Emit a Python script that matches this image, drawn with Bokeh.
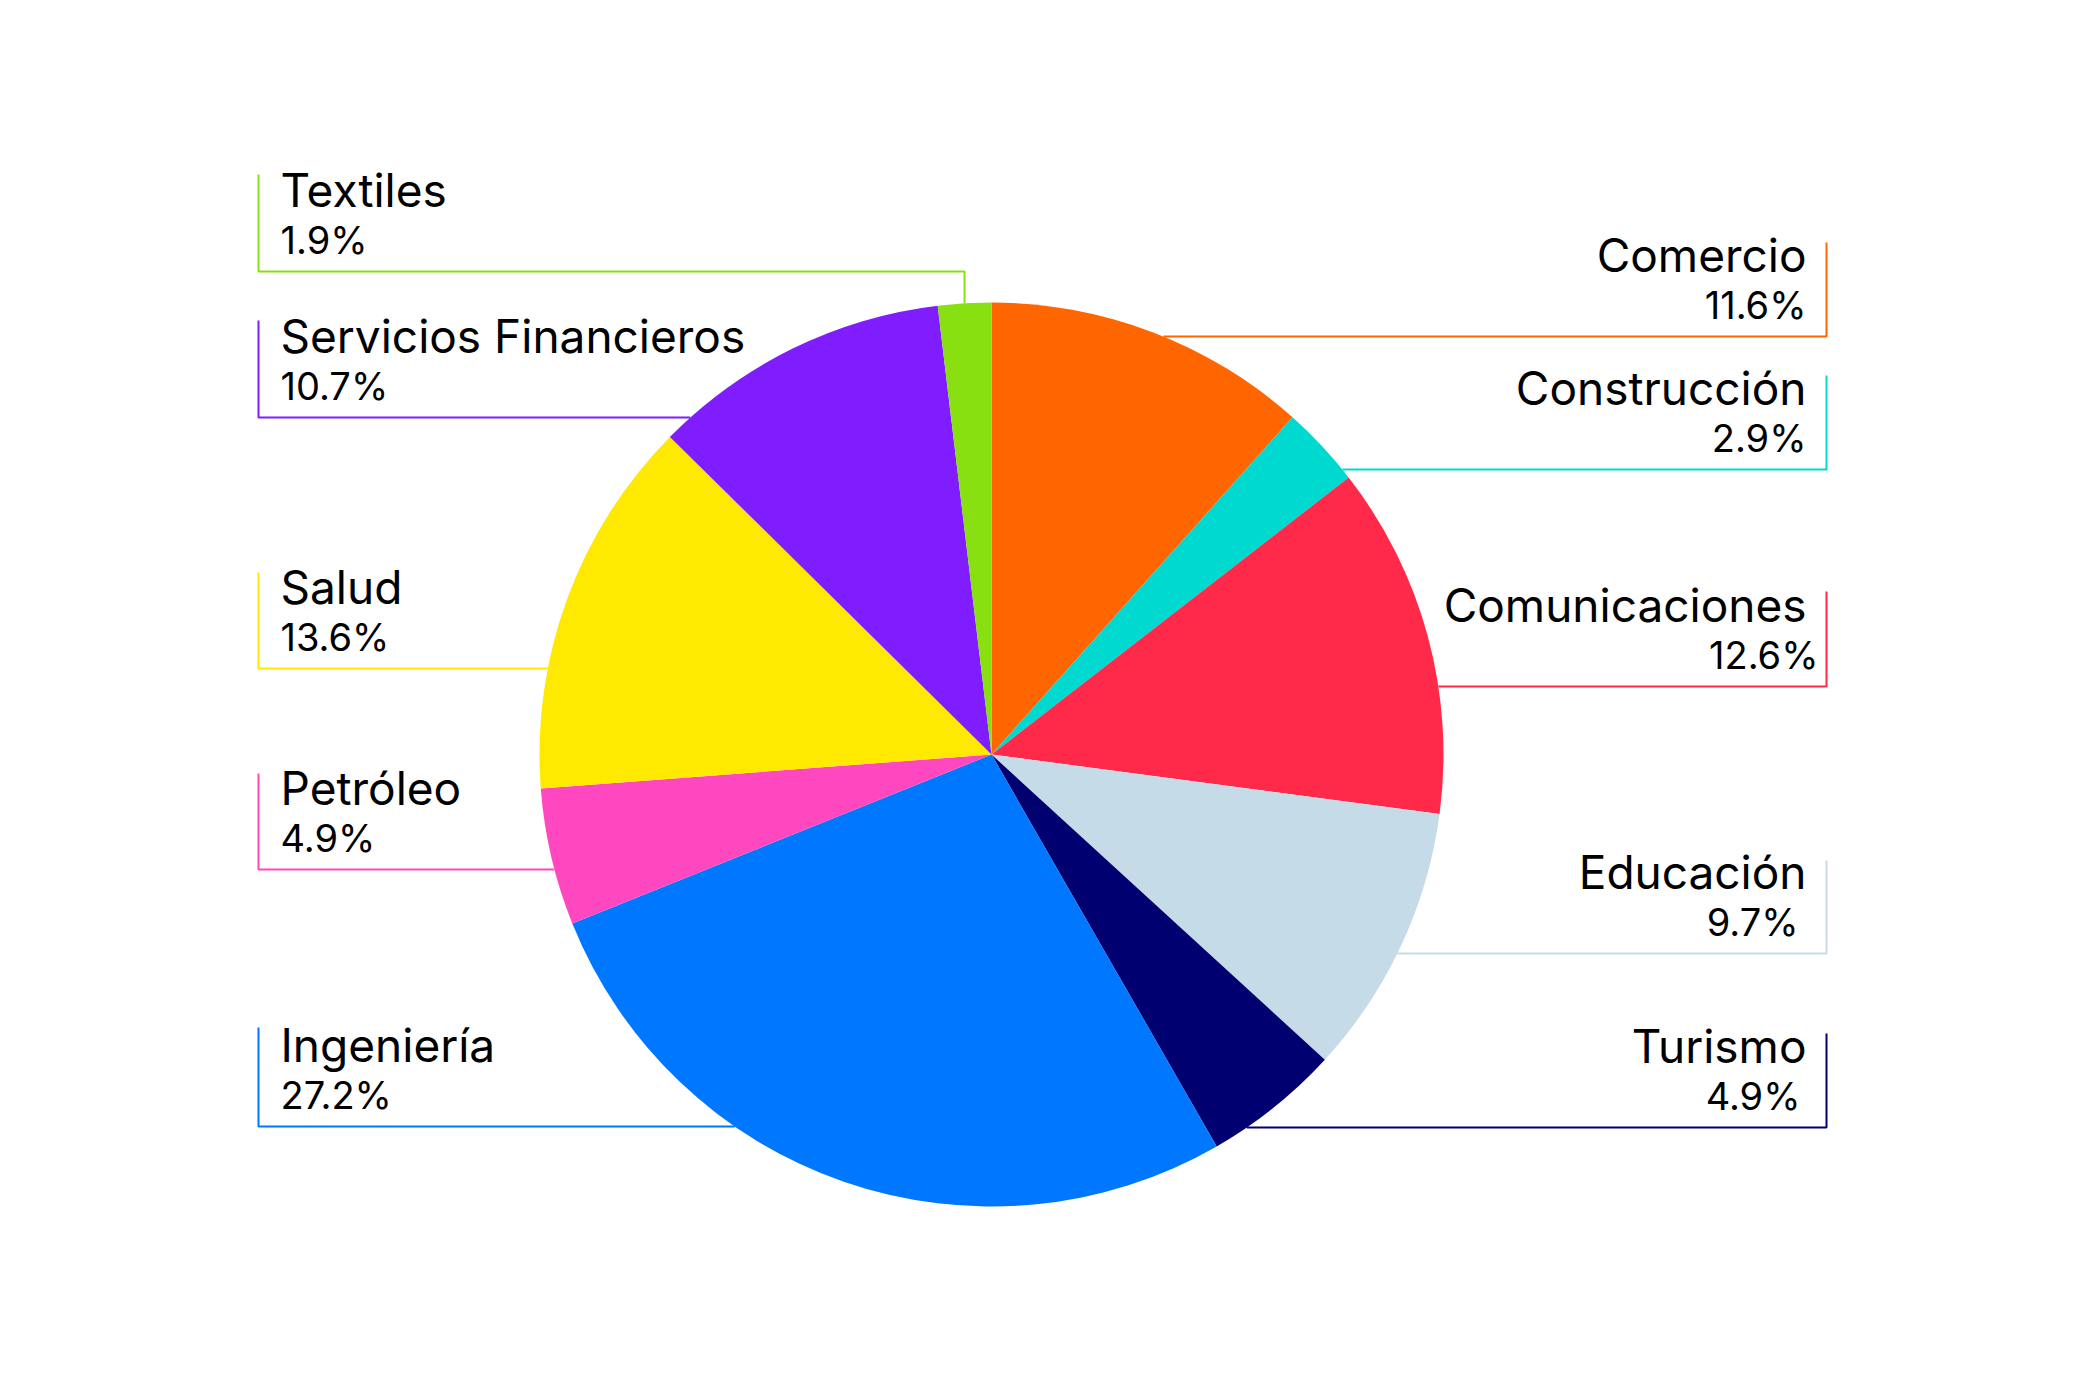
import numpy as np
from bokeh.plotting import figure
from bokeh.models import Range1d
from bokeh.core.properties import value
from bokeh.embed import file_html
from bokeh.resources import INLINE

# ---- data ----
categories = ["Comercio", "Construcción", "Comunicaciones", "Educación", "Turismo",
              "Ingeniería", "Petróleo", "Salud", "Servicios Financieros", "Textiles"]
shares = [11.6, 2.9, 12.6, 9.7, 4.9, 27.2, 4.9, 13.6, 10.7, 1.9]
pct_labels = ["11.6%", "2.9%", "12.6%", "9.7%", "4.9%", "27.2%", "4.9%", "13.6%", "10.7%", "1.9%"]
colors = ["#FF6600", "#00D9D0", "#FF2A4A", "#C5DCE8", "#000070",
          "#0077FF", "#FF47BF", "#FFE900", "#801DFF", "#88E011"]

# ---- layout (page pixels) ----
W, H = 2084, 1374
CX, CY, R = 991, 754, 452
side = ["R", "R", "R", "R", "R", "L", "L", "L", "L", "L"]
box_top = [242, 375, 591, 860, 1033, 1027, 773, 572, 320, 174]
box_bot = [336, 469, 686, 953, 1127, 1126, 869, 668, 417, 271]
pct_dx = [0, 0, 12, -8, -6, 0, 0, 0, 0, 0]
LEFT_X, RIGHT_X = 258, 1826
LEFT_TX, RIGHT_TX = 280, 1806
NAME_FS, PCT_FS = 46, 38


def fy(s):
    return H - s


p = figure(width=W - 16, height=H - 16, output_backend="svg", toolbar_location=None,
           x_range=Range1d(0, W - 16), y_range=Range1d(16, H),
           min_border=0, outline_line_color=None, background_fill_color="white")
p.axis.visible = False
p.grid.visible = False

frac = np.array(shares) / sum(shares)
cum = np.concatenate([[0], np.cumsum(frac)])
start = np.pi / 2 - 2 * np.pi * cum[:-1]
end = np.pi / 2 - 2 * np.pi * cum[1:]

p.wedge(x=CX, y=fy(CY), radius=R, start_angle=list(start), end_angle=list(end),
        direction="clock", fill_color=colors, line_color=None)

# connectors
for i in range(len(categories)):
    bx = RIGHT_X if side[i] == "R" else LEFT_X
    top, bot = box_top[i], box_bot[i]
    dy = CY - bot
    xs = [bx, bx]
    ys = [fy(top), fy(bot)]
    if abs(dy) < R:
        dx = np.sqrt(R ** 2 - dy ** 2)
        ex = CX + dx if side[i] == "R" else CX - dx
        xs.append(ex)
        ys.append(fy(bot))
    else:
        mid = np.pi / 2 - np.pi * (cum[i] + cum[i + 1])
        mx = CX + R * np.cos(mid)
        my = CY - R * np.sin(mid)
        xs += [mx, mx]
        ys += [fy(bot), fy(my)]
    p.line(xs, ys, line_color=colors[i], line_width=2)

# labels
for i in range(len(categories)):
    if side[i] == "R":
        tx, al = RIGHT_TX, "right"
    else:
        tx, al = LEFT_TX, "left"
    p.text(x=[tx], y=[fy(box_bot[i] - 63 - 0.4 * NAME_FS)], text=[categories[i]],
           text_font=value("Inter"), text_font_size=f"{NAME_FS}px", text_align=al,
           text_baseline="alphabetic", text_color="#000000")
    p.text(x=[tx + pct_dx[i]], y=[fy(box_bot[i] - 16 - 0.4 * PCT_FS)], text=[pct_labels[i]],
           text_font=value("Inter"), text_font_size=f"{PCT_FS}px", text_align=al,
           text_baseline="alphabetic", text_color="#000000")

open("out.html", "w").write(file_html(p, INLINE))
